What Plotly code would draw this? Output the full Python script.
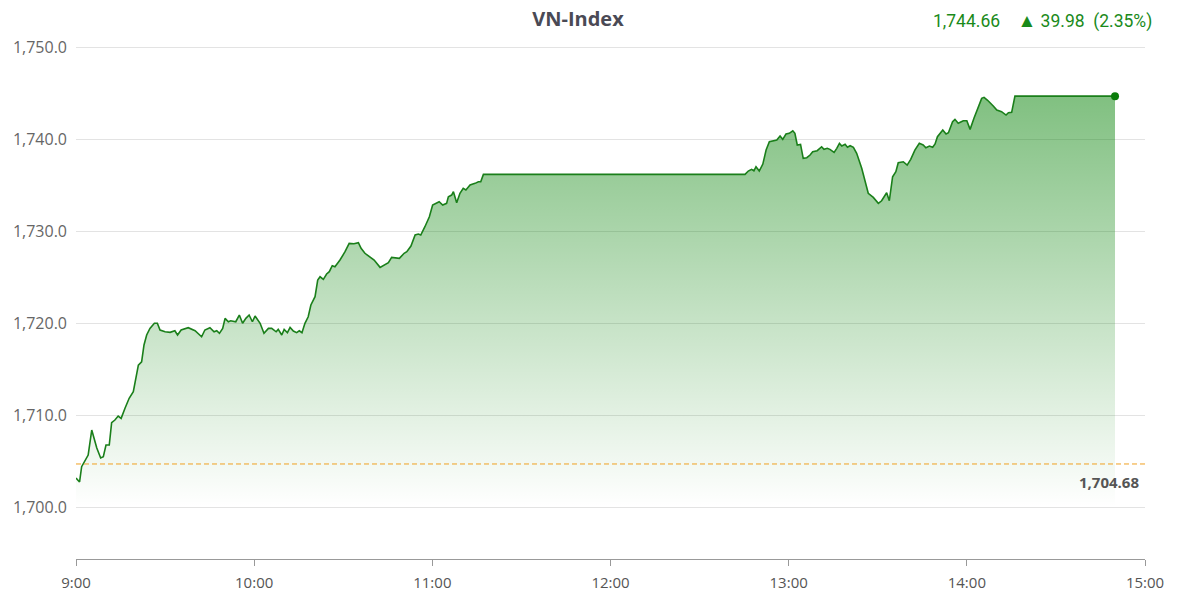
import plotly.graph_objects as go

# minutes after 9:00
minutes = [0, 1.2, 1.9, 4.1, 5.3, 7.0, 8.3, 9.2, 10.1, 11.2, 12.0, 13.1, 14.2, 15.2, 16.5, 17.9, 19.3, 20.2,
           21.0, 22.1, 22.9, 23.8, 24.9, 26.4, 27.4, 28.3, 30.0, 31.7, 33.3, 34.2, 35.4, 37.8, 40.1, 42.3,
           43.4, 45.1, 46.5, 47.4, 48.3, 49.4, 50.2, 51.3, 52.1, 53.8, 55.0, 56.1, 57.2, 58.3, 59.4, 60.3,
           62.0, 63.3, 64.8, 65.9, 67.4, 68.1, 69.3, 70.1, 71.2, 72.1, 73.2, 74.3, 75.2, 76.1, 77.1, 78.2,
           79.1, 80.5, 81.4, 82.2, 83.3, 84.4, 85.3, 86.3, 87.2, 88.9, 90.6, 92.0, 93.6, 95.1, 96.0, 97.3,
           99.0, 100.4, 102.4, 104.1, 105.2, 106.3, 108.9, 110.5, 111.4, 112.8, 114.2, 115.3, 116.1, 117.5,
           119.0, 120.1, 121.5, 122.3, 123.5, 124.8, 125.4, 126.5, 127.1, 128.2, 129.3, 130.4, 131.3, 132.7,
           134.4, 135.5, 136.3, 137.2,
           225.3, 226.4, 227.5, 228.3, 229.0, 230.1, 231.3, 232.4, 233.5, 234.8, 236.0, 237.1, 238.0, 239.1,
           240.2, 241.4, 242.1, 242.9, 244.0, 244.9, 246.1, 247.2, 248.1, 249.6, 251.1, 251.9, 253.0, 253.9,
           255.3, 256.2, 257.1, 257.9, 259.0, 259.8, 260.7, 261.8, 262.9, 264.6, 265.7, 266.8, 268.5, 270.2,
           271.3, 273.0, 273.9, 275.0, 276.1, 276.9, 278.6, 279.9, 281.1, 282.5, 284.0, 285.3, 286.2, 287.4,
           288.5, 289.3, 290.1, 291.9, 293.0, 293.8, 295.2, 296.0, 297.1, 298.8, 300.0, 301.1, 302.4, 303.9,
           305.0, 305.8, 306.9, 308.9, 310.1, 311.7, 313.2, 314.0, 315.1, 316.2, 349.9]

index_values = [1703.15, 1702.72, 1704.38, 1705.65, 1708.37, 1706.41, 1705.33, 1705.47, 1706.74, 1706.74,
                1709.16, 1709.46, 1709.89, 1709.64, 1710.73, 1711.82, 1712.53, 1714.16, 1715.43, 1715.79,
                1717.61, 1718.70, 1719.42, 1719.97, 1719.97, 1719.24, 1719.05, 1718.99, 1719.16, 1718.70,
                1719.24, 1719.49, 1719.16, 1718.51, 1719.24, 1719.49, 1719.05, 1719.16, 1718.88, 1719.42,
                1720.51, 1720.14, 1720.25, 1720.14, 1720.87, 1719.97, 1720.51, 1720.87, 1720.14, 1720.76,
                1719.97, 1718.88, 1719.42, 1719.42, 1719.05, 1719.31, 1718.70, 1719.31, 1718.95, 1719.53,
                1719.13, 1718.95, 1719.16, 1718.95, 1719.97, 1720.68, 1721.96, 1722.86, 1724.67, 1725.03,
                1724.75, 1725.33, 1725.58, 1726.23, 1726.12, 1726.85, 1727.75, 1728.66, 1728.62, 1728.73,
                1728.12, 1727.58, 1727.21, 1726.85, 1726.05, 1726.41, 1726.55, 1727.14, 1727.03, 1727.58,
                1727.75, 1728.37, 1729.57, 1729.67, 1729.57, 1730.47, 1731.55, 1732.83, 1733.08, 1733.18,
                1732.83, 1733.01, 1733.73, 1733.91, 1734.27, 1733.08, 1734.10, 1734.64, 1734.46, 1735.00,
                1735.18, 1735.36, 1735.36, 1736.16,
                1736.16, 1736.52, 1736.71, 1736.55, 1736.99, 1736.52, 1737.28, 1738.80, 1739.71, 1739.78,
                1739.89, 1740.33, 1739.97, 1740.54, 1740.62, 1740.90, 1740.62, 1739.35, 1739.42, 1737.90,
                1737.97, 1738.26, 1738.62, 1738.73, 1739.16, 1738.88, 1738.99, 1738.88, 1738.55, 1738.99,
                1739.53, 1739.24, 1739.42, 1739.10, 1739.27, 1739.10, 1738.45, 1736.82, 1735.36, 1734.10,
                1733.66, 1733.01, 1733.29, 1734.16, 1733.29, 1735.90, 1736.45, 1737.42, 1737.53, 1737.17,
                1737.79, 1738.80, 1739.53, 1739.35, 1739.05, 1739.24, 1739.10, 1739.46, 1740.25, 1740.98,
                1740.54, 1740.68, 1741.88, 1742.14, 1741.71, 1741.99, 1741.99, 1741.05, 1742.25, 1743.59,
                1744.42, 1744.53, 1744.24, 1743.59, 1743.15, 1742.97, 1742.61, 1742.86, 1742.90, 1744.66,
                1744.66]

reference_close = 1704.68
tick_labels = ["9:00", "10:00", "11:00", "12:00", "13:00", "14:00", "15:00"]
y_ticks = [1700, 1710, 1720, 1730, 1740, 1750]

last_value = 1744.66
change = 39.98
change_pct = 2.35

fig = go.Figure()

fig.add_trace(go.Scatter(
    x=minutes, y=index_values, mode="lines",
    line=dict(color="#1a7f1a", width=1.6),
    fill="tozeroy",
    fillgradient=dict(type="vertical", start=1700, stop=1745,
                      colorscale=[[0, "rgba(0,128,0,0.0)"], [1, "rgba(0,128,0,0.5)"]]),
    hoverinfo="skip", showlegend=False,
))

fig.add_trace(go.Scatter(
    x=[minutes[-1]], y=[index_values[-1]], mode="markers",
    marker=dict(color="#0a7d0a", size=8), showlegend=False, hoverinfo="skip",
))

fig.add_shape(type="line", xref="paper", x0=0, x1=1, yref="y", y0=reference_close, y1=reference_close,
              line=dict(color="#f0a020", width=1, dash="5px,3px"))

fig.add_annotation(xref="paper", x=1, yref="y", y=reference_close, xanchor="right", yanchor="top",
                   xshift=-4, yshift=-6, showarrow=False,
                   text="<b>{:,.2f}</b>".format(reference_close),
                   font=dict(family="Open Sans", size=15, color="#555555"))

fig.add_annotation(xref="paper", x=1, yref="paper", y=1.0466, xanchor="right", yanchor="middle",
                   xshift=9, showarrow=False,
                   text="{:,.2f}&nbsp;&nbsp;&nbsp;&nbsp;<span style='font-size:19px'>▲</span> {:.2f}&nbsp;&nbsp;({:.2f}%)".format(
                       last_value, change, change_pct),
                   font=dict(family="Roboto", size=17.5, color="#1a8a1a"))

fig.update_layout(
    width=1189, height=598,
    margin=dict(l=76, r=44, t=44, b=39),
    paper_bgcolor="white", plot_bgcolor="white",
    title=dict(text="<b>VN-Index</b>", x=578 / 1189, xref="container", y=1 - 19 / 598, yref="container",
               yanchor="middle", xanchor="center",
               font=dict(family="Open Sans", size=20, color="#4a4a55")),
    xaxis=dict(range=[0, 360], tickvals=[i * 60 for i in range(len(tick_labels))], ticktext=tick_labels,
               showgrid=False, zeroline=False, showline=True, linecolor="#999999", linewidth=1,
               ticks="outside", ticklen=6, tickcolor="#999999", ticklabelstandoff=4, automargin=False,
               tickfont=dict(family="Open Sans", size=15, color="#555555")),
    yaxis=dict(range=[1694.35, 1750.33], tickvals=y_ticks, tickformat=",.1f",
               showgrid=True, gridcolor="#e3e3e3", gridwidth=1, zeroline=False, showline=False,
               ticks="", ticklabelstandoff=8, automargin=False,
               tickfont=dict(family="Open Sans", size=16, color="#666666")),
)

fig.write_html("out.html", config={"displayModeBar": False},
               post_script="document.body.style.margin='0px';document.body.style.overflow='hidden';")
